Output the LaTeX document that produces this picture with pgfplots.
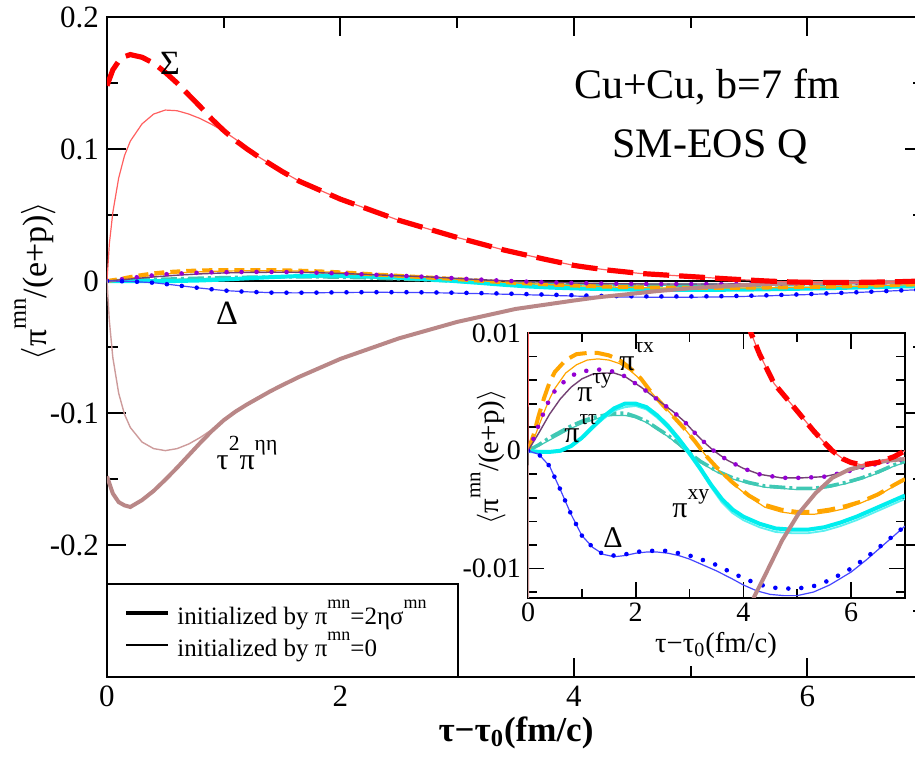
\documentclass[border=0pt]{standalone}
\usepackage{graphicx}
\usepackage{pgfplots}
\pgfplotsset{compat=1.18}
\usepackage{pgfplotstable}
\usepackage{fontspec}
\setmainfont{Liberation Serif}

\definecolor{cred}{RGB}{255,0,0}
\definecolor{credthin}{RGB}{255,95,95}
\definecolor{cbrown}{RGB}{185,135,135}
\definecolor{cbrownthin}{RGB}{205,155,155}
\definecolor{cblue}{RGB}{0,0,255}
\definecolor{cbluethin}{RGB}{70,70,255}
\definecolor{corange}{RGB}{255,165,0}
\definecolor{cviolet}{RGB}{148,0,211}
\definecolor{cplum}{RGB}{115,65,115}
\definecolor{ccyan}{RGB}{0,238,238}
\definecolor{ccyanthin}{RGB}{90,240,240}
\definecolor{cturq}{RGB}{64,200,180}

\newcommand{\up}[1]{\raisebox{0.62em}{\scalebox{0.72}{#1}}}
\newcommand{\fs}[1]{\fontsize{#1}{#1}\selectfont}

% Sigma, thick (initialized by 2 eta sigma) and thin (initialized by 0)
\pgfplotstableread{
x y
0 0.148
0.05 0.160
0.1 0.1665
0.15 0.170
0.2 0.1715
0.3 0.1695
0.4 0.165
0.5 0.158
0.6 0.150
0.7 0.141
0.8 0.132
0.9 0.1225
1.0 0.114
1.1 0.1065
1.2 0.100
1.3 0.094
1.4 0.0885
1.5 0.083
1.65 0.0755
2.0 0.062
2.5 0.046
3.0 0.033
3.4 0.0235
3.75 0.0165
4.0 0.0118
4.14 0.0100
4.3 0.0082
4.57 0.0057
5.03 0.0032
5.3 0.0017
5.5 0.0007
5.65 0.0
5.85 -0.0007
6.0 -0.0010
6.2 -0.0012
6.5 -0.0010
6.8 -0.0005
7.0 0.0
}\sigthick
\pgfplotstableread{
x y
0 0
0.02 0.028
0.05 0.052
0.1 0.078
0.15 0.095
0.2 0.106
0.3 0.119
0.4 0.1265
0.5 0.1295
0.6 0.129
0.7 0.1265
0.8 0.123
0.9 0.1185
1.0 0.1135
1.1 0.1075
1.2 0.1005
1.3 0.094
1.4 0.0885
1.5 0.083
1.65 0.0755
2.0 0.062
2.5 0.046
3.0 0.033
3.4 0.0235
3.75 0.0165
4.0 0.0118
4.14 0.0100
4.3 0.0082
4.57 0.0057
5.03 0.0032
5.3 0.0017
5.5 0.0007
5.65 0.0
5.85 -0.0007
6.0 -0.0010
6.2 -0.0012
6.5 -0.0010
6.8 -0.0005
7.0 0.0
}\sigthin
% tau^2 pi^{eta eta}
\pgfplotstableread{
x y
0 -0.148
0.05 -0.161
0.1 -0.1675
0.15 -0.170
0.2 -0.1712
0.3 -0.166
0.4 -0.159
0.5 -0.1505
0.6 -0.1415
0.7 -0.132
0.8 -0.1225
0.9 -0.1135
1.0 -0.1055
1.1 -0.099
1.2 -0.0935
1.3 -0.0885
1.4 -0.0835
1.5 -0.079
1.65 -0.0725
2.0 -0.059
2.5 -0.0435
3.0 -0.031
3.5 -0.0212
4.0 -0.0148
4.2 -0.0124
4.42 -0.0104
4.72 -0.0076
5.03 -0.0053
5.34 -0.0036
5.65 -0.0023
5.96 -0.0016
6.27 -0.0012
6.56 -0.0009
7.0 -0.0007
}\etathick
\pgfplotstableread{
x y
0 0
0.02 -0.03
0.05 -0.058
0.1 -0.085
0.15 -0.101
0.2 -0.111
0.3 -0.122
0.4 -0.127
0.5 -0.1285
0.6 -0.127
0.7 -0.1235
0.8 -0.1185
0.9 -0.1125
1.0 -0.1060
1.1 -0.0995
1.2 -0.0935
1.3 -0.0885
1.4 -0.0835
1.5 -0.079
1.65 -0.0725
2.0 -0.059
2.5 -0.0435
3.0 -0.031
3.5 -0.0212
4.0 -0.0148
4.2 -0.0124
4.42 -0.0104
4.72 -0.0076
5.03 -0.0053
5.34 -0.0036
5.65 -0.0023
5.96 -0.0016
6.27 -0.0012
6.56 -0.0009
7.0 -0.0007
}\etathin
% Delta
\pgfplotstableread{
x y
0 0
0.2 -0.0003
0.4 -0.0013
0.6 -0.0033
0.8 -0.0054
1.0 -0.0072
1.2 -0.0082
1.4 -0.0088
1.6 -0.0089
1.8 -0.0088
2.0 -0.0086
2.2 -0.0085
2.4 -0.0085
2.6 -0.0085
2.8 -0.0087
3.0 -0.0089
3.2 -0.0092
3.5 -0.0097
3.8 -0.0104
4.0 -0.0108
4.25 -0.0113
4.5 -0.0116
4.75 -0.0117
5.0 -0.0117
5.3 -0.0115
5.6 -0.0110
6.0 -0.0100
6.3 -0.0090
6.6 -0.0079
7.0 -0.0064
}\delthick
\pgfplotstableread{
x y
0 0
0.2 -0.0003
0.4 -0.0013
0.6 -0.0033
0.8 -0.0054
1.0 -0.0072
1.2 -0.0082
1.4 -0.0088
1.6 -0.0090
1.8 -0.0089
2.0 -0.0087
2.2 -0.0086
2.4 -0.0086
2.6 -0.0087
2.8 -0.0089
3.0 -0.0092
3.2 -0.0096
3.5 -0.0102
3.8 -0.0109
4.0 -0.0114
4.25 -0.0119
4.5 -0.0122
4.75 -0.0123
5.0 -0.0123
5.3 -0.0120
5.6 -0.0114
6.0 -0.0103
6.3 -0.0092
6.6 -0.0080
7.0 -0.0064
}\delthin
% pi^{tau x}
\pgfplotstableread{
x y
0 0
0.1 0.0013
0.2 0.0030
0.3 0.0045
0.4 0.0058
0.5 0.0067
0.7 0.0077
0.9 0.0082
1.1 0.0083
1.3 0.0083
1.5 0.0081
1.7 0.0077
1.9 0.0070
2.1 0.0061
2.3 0.0049
2.5 0.0039
2.7 0.0029
2.9 0.0019
3.1 0.0008
3.3 -0.0004
3.5 -0.0014
3.8 -0.0027
4.1 -0.0038
4.4 -0.0046
4.7 -0.0050
5.0 -0.0052
5.3 -0.0052
5.6 -0.0050
5.9 -0.0047
6.2 -0.0043
6.5 -0.0037
6.8 -0.0029
7.0 -0.0024
}\txthick
\pgfplotstableread{
x y
0 0
0.1 0.0009
0.2 0.0021
0.3 0.0033
0.4 0.0044
0.5 0.0053
0.7 0.0066
0.9 0.0073
1.1 0.0077
1.3 0.0078
1.5 0.0077
1.7 0.0074
1.9 0.0068
2.1 0.0060
2.3 0.0049
2.5 0.0039
2.7 0.0029
2.9 0.0019
3.1 0.0008
3.3 -0.0004
3.5 -0.0015
3.8 -0.0028
4.1 -0.0039
4.4 -0.0048
4.7 -0.0052
5.0 -0.0054
5.3 -0.0054
5.6 -0.0052
5.9 -0.0049
6.2 -0.0044
6.5 -0.0038
6.8 -0.0030
7.0 -0.0025
}\txthin
% pi^{tau y}
\pgfplotstableread{
x y
0 0
0.1 0.0010
0.2 0.0022
0.35 0.0039
0.5 0.0051
0.7 0.0060
0.9 0.0066
1.1 0.0068
1.3 0.0069
1.5 0.0068
1.7 0.0066
1.9 0.0060
2.1 0.0054
2.3 0.0047
2.5 0.0040
2.7 0.0033
2.9 0.0025
3.1 0.0015
3.3 0.0006
3.45 0.0
3.7 -0.0008
4.0 -0.0015
4.3 -0.0020
4.7 -0.0023
5.1 -0.0023
5.5 -0.0022
5.9 -0.0018
6.3 -0.0013
6.7 -0.0009
7.0 -0.0007
}\tythick
\pgfplotstableread{
x y
0 0
0.2 0.0015
0.4 0.0031
0.6 0.0044
0.8 0.0054
1.0 0.0061
1.2 0.0065
1.4 0.0066
1.6 0.0066
1.8 0.0063
2.0 0.0057
2.1 0.0054
2.3 0.0047
2.5 0.0040
2.7 0.0033
2.9 0.0025
3.1 0.0015
3.3 0.0006
3.45 0.0
3.7 -0.0008
4.0 -0.0015
4.3 -0.0020
4.7 -0.0023
5.1 -0.0023
5.5 -0.0022
5.9 -0.0018
6.3 -0.0013
6.7 -0.0009
7.0 -0.0007
}\tythin
% pi^{xy}
\pgfplotstableread{
x y
0 0
0.2 -0.0001
0.4 -0.0001
0.6 0.0
0.8 0.0004
1.0 0.0011
1.2 0.0020
1.4 0.0029
1.6 0.0036
1.8 0.0040
2.0 0.0040
2.2 0.0037
2.4 0.0030
2.6 0.0021
2.8 0.0010
3.0 -0.0002
3.2 -0.0015
3.4 -0.0029
3.6 -0.0041
3.8 -0.0050
4.0 -0.0056
4.3 -0.0062
4.6 -0.0066
4.9 -0.0067
5.2 -0.0067
5.5 -0.0065
5.8 -0.0061
6.1 -0.0056
6.4 -0.0050
6.7 -0.0044
7.0 -0.0038
}\xythick
\pgfplotstableread{
x y
0 0
0.2 -0.0001
0.4 -0.0001
0.6 0.0
0.8 0.0004
1.0 0.0010
1.2 0.0019
1.4 0.0027
1.6 0.0034
1.8 0.0037
2.0 0.0038
2.2 0.0035
2.4 0.0028
2.6 0.0019
2.8 0.0008
3.0 -0.0004
3.2 -0.0017
3.4 -0.0031
3.6 -0.0044
3.8 -0.0053
4.0 -0.0059
4.3 -0.0065
4.6 -0.0069
4.9 -0.0070
5.2 -0.0070
5.5 -0.0068
5.8 -0.0064
6.1 -0.0059
6.4 -0.0053
6.7 -0.0047
7.0 -0.0041
}\xythin
% pi^{tau tau}
\pgfplotstableread{
x y
0 0
0.2 0.0005
0.4 0.0011
0.6 0.0016
0.8 0.0021
1.0 0.0025
1.2 0.0028
1.4 0.0030
1.6 0.0032
1.8 0.0032
2.0 0.0029
2.2 0.0025
2.4 0.0019
2.6 0.0013
2.8 0.0006
3.0 -0.0002
3.2 -0.0009
3.5 -0.0017
3.8 -0.0023
4.1 -0.0027
4.4 -0.0030
4.7 -0.0031
5.0 -0.0032
5.3 -0.0032
5.6 -0.0030
5.9 -0.0027
6.2 -0.0023
6.5 -0.0018
6.8 -0.0012
7.0 -0.0009
}\ttthick
\pgfplotstableread{
x y
0 0
0.2 0.0004
0.4 0.0009
0.6 0.0014
0.8 0.0019
1.0 0.0023
1.2 0.0026
1.4 0.0029
1.6 0.0030
1.8 0.0030
2.0 0.0028
2.2 0.0024
2.4 0.0018
2.6 0.0012
2.8 0.0005
3.0 -0.0003
3.2 -0.0010
3.5 -0.0018
3.8 -0.0024
4.1 -0.0028
4.4 -0.0031
4.7 -0.0032
5.0 -0.0033
5.3 -0.0033
5.6 -0.0031
5.9 -0.0028
6.2 -0.0024
6.5 -0.0019
6.8 -0.0013
7.0 -0.0010
}\ttthin

% all curves; #1 red dashes, #2 orange dashes, #3 dot spacing
\newcommand{\allcurves}[3]{%
  \addplot[black, line width=0.8pt] coordinates {(0,0) (7,0)};
  \addplot[cturq, line width=0.6pt] table {\ttthin};
  \addplot[cturq, line width=1.8pt, dash pattern=on 8pt off 2pt on 1.5pt off 2pt] table {\ttthick};
  \addplot[ccyanthin, line width=0.9pt] table {\xythin};
  \addplot[ccyan, line width=2pt] table {\xythick};
  \addplot[corange, line width=0.6pt] table {\txthin};
  \addplot[corange, line width=2pt, dash pattern=#2] table {\txthick};
  \addplot[cplum, line width=0.7pt] table {\tythin};
  \addplot[cviolet, line width=2.3pt, line cap=round, dash pattern=on 0pt off #3] table {\tythick};
  \addplot[cbluethin, line width=0.6pt] table {\delthin};
  \addplot[cblue, line width=2.3pt, line cap=round, dash pattern=on 0pt off #3] table {\delthick};
  \addplot[cbrownthin, line width=0.7pt] table {\etathin};
  \addplot[cbrown, line width=2pt] table {\etathick};
  \addplot[credthin, line width=0.6pt] table {\sigthin};
  \addplot[cred, line width=2.6pt, dash pattern=#1] table {\sigthick};
}

\begin{document}
\begin{tikzpicture}
\useasboundingbox (-53.5pt,-40.5pt) rectangle (404pt,338.5pt);
\clip (-53.5pt,-40.5pt) rectangle (404pt,338.5pt);

% main panel
\begin{axis}[
  at={(0,0)}, anchor=south west, scale only axis,
  width=408.5pt, height=330pt,
  xmin=0, xmax=7, ymin=-0.3, ymax=0.2,
  scaled x ticks=false, scaled y ticks=false,
  xtick={0,2,4,6}, xticklabels={0,2,4,6}, minor xtick={1,3,5},
  ytick={-0.2,-0.1,0,0.1,0.2}, yticklabels={-0.2,-0.1,0,0.1,0.2},
  minor ytick={-0.25,-0.15,-0.05,0.05,0.15},
  tick align=inside, major tick length=9.5pt, minor tick length=5.5pt,
  axis line style={line width=1pt}, every tick/.style={black, line width=1pt},
  tick label style={font=\fs{15.5pt}},
  yticklabel style={xshift=-0.5pt},
  xticklabel style={yshift=-1pt},
]
\allcurves{on 13pt off 5pt}{on 5pt off 3pt}{7.5pt}
\end{axis}

% legend
\draw[line width=1pt, fill=white] (0,0) rectangle (175.5pt,46.5pt);
\draw[black, line width=2pt] (9.5pt,32pt) -- (30.5pt,32pt);
\draw[black, line width=0.6pt] (9.5pt,16pt) -- (30.5pt,16pt);
\node[anchor=west, inner sep=0pt, font=\fs{12.5pt}] at (35pt,31pt) {initialized by π\up{mn}=2ησ\up{mn}};
\node[anchor=west, inner sep=0pt, font=\fs{12.5pt}] at (35pt,15pt) {initialized by π\up{mn}=0};

% labels of the main panel
\node[rotate=90, font=\fs{17pt}] at (-36pt,198pt) {$\langle$π\up{mn}/(e+p)$\rangle$};
\node[font=\fs{17.5pt}\bfseries] at (204.5pt,-28pt) {τ−τ\textsubscript{0}(fm/c)};
\node[font=\fs{17pt}] at (31.5pt,307pt) {Σ};
\node[font=\fs{17pt}] at (60pt,182pt) {Δ};
\node[font=\fs{15pt}] at (70pt,112pt) {τ\up{2}π\up{ηη}};
\node[font=\fs{21pt}] at (300pt,295pt) {Cu+Cu, b=7 fm};
\node[font=\fs{21pt}] at (301.5pt,265pt) {SM-EOS Q};

% inset
\begin{axis}[
  at={(210.5pt,39.5pt)}, anchor=south west, scale only axis,
  width=188.5pt, height=132.5pt,
  xmin=0, xmax=7, ymin=-0.0125, ymax=0.01,
  scaled x ticks=false, scaled y ticks=false,
  axis background/.style={fill=white},
  xtick={0,2,4,6}, xticklabels={0,2,4,6}, minor xtick={1,3,5},
  ytick={-0.01,0,0.01}, yticklabels={-0.01,0,0.01},
  minor ytick={-0.012,-0.008,-0.006,-0.004,-0.002,0.002,0.004,0.006,0.008},
  tick align=inside, major tick length=8pt, minor tick length=4.5pt,
  axis line style={line width=1pt}, every tick/.style={black, line width=0.9pt},
  tick label style={font=\fs{14pt}},
  xticklabel style={yshift=1pt},
]
\allcurves{on 8pt off 4pt}{on 9pt off 4pt}{6.5pt}
\end{axis}

\node[rotate=90, font=\fs{14.5pt}] at (190.5pt,110pt) {$\langle$π\up{mn}/(e+p)$\rangle$};
\node[font=\fs{14.3pt}] at (304.5pt,16pt) {τ−τ\textsubscript{0}(fm/c)};
\node[anchor=base west, inner sep=0pt, font=\fs{15pt}] at (256pt,153pt) {π\up{τx}};
\node[anchor=base west, inner sep=0pt, font=\fs{15pt}] at (235pt,137.5pt) {π\up{τy}};
\node[anchor=base west, inner sep=0pt, font=\fs{15pt}] at (228.5pt,117pt) {π\up{ττ}};
\node[anchor=base west, inner sep=0pt, font=\fs{15pt}] at (282.5pt,79.5pt) {π\up{xy}};
\node[font=\fs{15pt}] at (253pt,69.5pt) {Δ};
\end{tikzpicture}
\end{document}
